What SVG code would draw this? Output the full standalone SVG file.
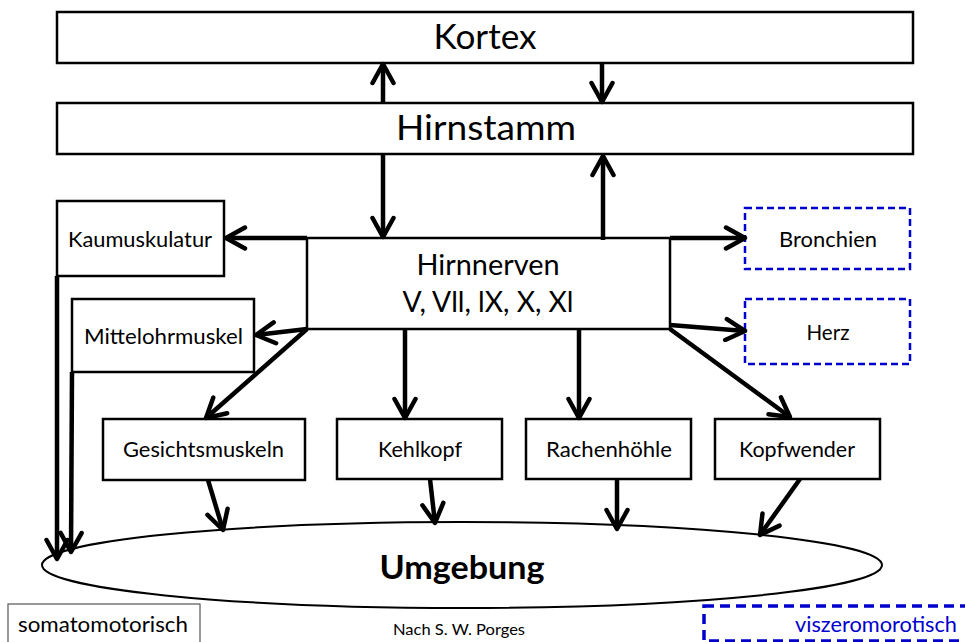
<svg xmlns="http://www.w3.org/2000/svg" width="965" height="642" viewBox="0 0 965 642">
<style>
.box{fill:#fff;stroke:#000;stroke-width:2.5}
.vis{fill:#fff;stroke:#0000cc;stroke-width:2.5;stroke-dasharray:7 4}
.t{font-family:Lato,"Open Sans",sans-serif;fill:#000;text-anchor:middle}
.s{font-size:22px}
.c{fill:none;stroke:#000;stroke-width:4.5;marker-end:url(#a)}
</style>
<defs>
<marker id="a" viewBox="0 0 26 26" refX="23" refY="13" markerWidth="26" markerHeight="26" markerUnits="userSpaceOnUse" orient="auto">
<path d="M4,2.5 L23,13 L4,23.5" fill="none" stroke="#000" stroke-width="4.5" stroke-linecap="round" stroke-linejoin="round"/>
</marker>
</defs>
<rect width="965" height="642" fill="#fff"/>
<g id="kortex"><rect class="box" x="57" y="12" width="856" height="51"/><text class="t" x="485" y="49" font-size="35" textLength="103" lengthAdjust="spacingAndGlyphs">Kortex</text></g>
<g id="hirnstamm"><rect class="box" x="57" y="103" width="856" height="51"/><text class="t" x="486" y="140" font-size="35" textLength="180" lengthAdjust="spacingAndGlyphs">Hirnstamm</text></g>
<g id="kaumuskulatur"><rect class="box" x="57" y="201" width="167" height="75"/><text class="t s" x="140" y="247" textLength="144" lengthAdjust="spacingAndGlyphs">Kaumuskulatur</text></g>
<g id="mittelohrmuskel"><rect class="box" x="72" y="299" width="182" height="73"/><text class="t s" x="163.5" y="344" textLength="159" lengthAdjust="spacingAndGlyphs">Mittelohrmuskel</text></g>
<g id="hirnnerven"><rect class="box" x="307" y="238" width="363" height="91"/><text class="t" x="488" y="275" font-size="28.5" textLength="143" lengthAdjust="spacingAndGlyphs">Hirnnerven</text><text class="t" x="488" y="312" font-size="28.5" textLength="171" lengthAdjust="spacingAndGlyphs">V, Vll, lX, X, Xl</text></g>
<g id="bronchien"><rect class="vis" x="745" y="208" width="165" height="61"/><text class="t s" x="828" y="247" textLength="98" lengthAdjust="spacingAndGlyphs">Bronchien</text></g>
<g id="herz"><rect class="vis" x="745" y="299" width="165" height="65"/><text class="t s" x="828" y="340" textLength="43" lengthAdjust="spacingAndGlyphs">Herz</text></g>
<g id="gesichtsmuskeln"><rect class="box" x="103" y="419" width="202" height="61"/><text class="t s" x="203.5" y="457" textLength="161" lengthAdjust="spacingAndGlyphs">Gesichtsmuskeln</text></g>
<g id="kehlkopf"><rect class="box" x="337" y="419" width="165" height="60"/><text class="t s" x="420" y="457" textLength="84" lengthAdjust="spacingAndGlyphs">Kehlkopf</text></g>
<g id="rachenhoehle"><rect class="box" x="526" y="419" width="165" height="60"/><text class="t s" x="609" y="457" textLength="126" lengthAdjust="spacingAndGlyphs">Rachenhöhle</text></g>
<g id="kopfwender"><rect class="box" x="715" y="419" width="165" height="60"/><text class="t s" x="797" y="457" textLength="116" lengthAdjust="spacingAndGlyphs">Kopfwender</text></g>
<g id="umgebung"><ellipse cx="462" cy="565" rx="420" ry="43" fill="#fff" stroke="#000" stroke-width="2"/><text class="t" x="462" y="579" font-size="33" font-weight="bold" textLength="165" lengthAdjust="spacingAndGlyphs">Umgebung</text></g>
<g id="connectors">
<path class="c" d="M383,103 V64"/>
<path class="c" d="M602,63 V102"/>
<path class="c" d="M383,154 V237"/>
<path class="c" d="M603,240 V156"/>
<path class="c" d="M307,238 H226"/>
<path class="c" d="M307,329 L256,335"/>
<path class="c" d="M307,329 L206,418"/>
<path class="c" d="M405,329 V418"/>
<path class="c" d="M579,329 V418"/>
<path class="c" d="M670,329 L790,417"/>
<path class="c" d="M670,238 H745"/>
<path class="c" d="M670,325 L745,331"/>
<path class="c" d="M57,276 V559"/>
<path class="c" d="M72,372 L71,552"/>
<path class="c" d="M208,480 L223,530"/>
<path class="c" d="M430,479 L435,523"/>
<path class="c" d="M617,479 V529"/>
<path class="c" d="M800,479 L760,535"/>
</g>
<g id="legend-somato"><rect x="8" y="604" width="192" height="50" fill="#fff" stroke="#555" stroke-width="1.2"/><text class="t s" x="103" y="632" textLength="170" lengthAdjust="spacingAndGlyphs">somatomotorisch</text></g>
<text class="t" x="459" y="635" font-size="15" textLength="132" lengthAdjust="spacingAndGlyphs">Nach S. W. Porges</text>
<g id="legend-viszero"><rect x="704" y="606" width="270" height="35" fill="#fff" stroke="#0000cc" stroke-width="3.5" stroke-dasharray="10 6"/><text class="t s" x="876" y="632" textLength="162" lengthAdjust="spacingAndGlyphs" style="fill:#0000cc">viszeromorotisch</text></g>
</svg>
